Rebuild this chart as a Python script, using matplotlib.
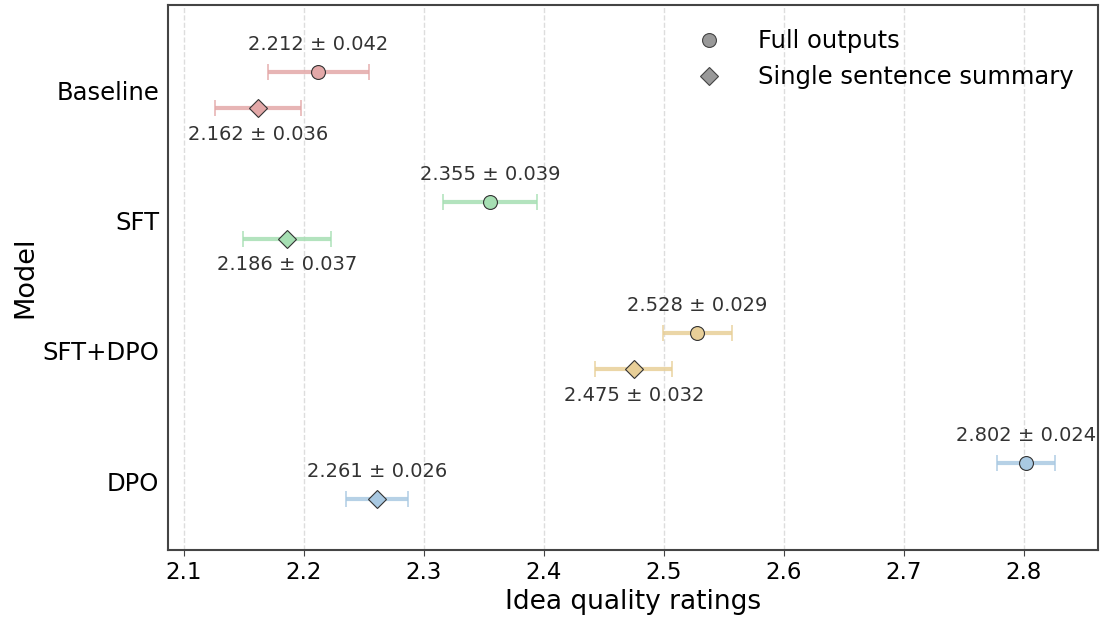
import numpy as np
import matplotlib.pyplot as plt
from matplotlib.lines import Line2D

models = ["Baseline", "SFT", "SFT+DPO", "DPO"]
full_mean = [2.212, 2.355, 2.528, 2.802]
full_err = [0.042, 0.039, 0.029, 0.024]
summ_mean = [2.162, 2.186, 2.475, 2.261]
summ_err = [0.036, 0.037, 0.032, 0.026]
colors = ["#e3a8a8", "#a6dfb3", "#e8cf98", "#a9c9e2"]

fig, ax = plt.subplots(figsize=(11.04, 6.26), dpi=100)
fig.subplots_adjust(left=0.152, right=0.9945, top=0.992, bottom=0.121)

off = 0.14
for i, m in enumerate(models):
    c = colors[i]
    yf = i - off
    ys = i + off
    ax.errorbar(full_mean[i], yf, xerr=full_err[i], fmt="none", ecolor=c,
                elinewidth=3, capsize=6, capthick=1.2, alpha=0.85, zorder=2)
    ax.plot(full_mean[i], yf, "o", ms=10, mfc=c, mec="#333333", mew=0.8, zorder=3)
    ax.errorbar(summ_mean[i], ys, xerr=summ_err[i], fmt="none", ecolor=c,
                elinewidth=3, capsize=6, capthick=1.2, alpha=0.85, zorder=2)
    ax.plot(summ_mean[i], ys, "D", ms=9, mfc=c, mec="#333333", mew=0.8, zorder=3)
    ax.annotate("%.3f ± %.3f" % (full_mean[i], full_err[i]), (full_mean[i], yf),
                xytext=(0, 13), textcoords="offset points", ha="center", va="bottom",
                fontsize=14, color="#333333")
    if m == "DPO":
        ax.annotate("%.3f ± %.3f" % (summ_mean[i], summ_err[i]), (summ_mean[i], ys),
                    xytext=(0, 13), textcoords="offset points", ha="center", va="bottom",
                    fontsize=14, color="#333333")
    else:
        ax.annotate("%.3f ± %.3f" % (summ_mean[i], summ_err[i]), (summ_mean[i], ys),
                    xytext=(0, -12), textcoords="offset points", ha="center", va="top",
                    fontsize=14, color="#333333")

ax.set_yticks(range(len(models)))
ax.set_yticklabels(models, fontsize=17.5)
ax.set_ylim(3 + 69 / 130, -85 / 130)
ax.set_xlim(2.0867, 2.8617)
ax.set_xticks(np.arange(2.1, 2.81, 0.1))
ax.tick_params(axis="x", labelsize=16.5, length=4, color="#444444")
ax.tick_params(axis="y", length=0, pad=6)
ax.grid(axis="x", linestyle="--", color="#dddddd", linewidth=1)
ax.set_axisbelow(True)
for s in ax.spines.values():
    s.set_color("#444444")
    s.set_linewidth(1.5)
ax.set_xlabel("Idea quality ratings", fontsize=19)
ax.set_ylabel("Model", fontsize=19.5, labelpad=3)

handles = [
    Line2D([], [], marker="o", ls="none", ms=10, mfc="#999999", mec="#444444", mew=0.8),
    Line2D([], [], marker="D", ls="none", ms=9, mfc="#999999", mec="#444444", mew=0.8),
]
ax.legend(handles, ["Full outputs", "Single sentence summary"], loc="upper right",
          fontsize=17.5, frameon=False, handletextpad=1.0, borderaxespad=0.6)

fig.savefig("out.png", dpi=100)
